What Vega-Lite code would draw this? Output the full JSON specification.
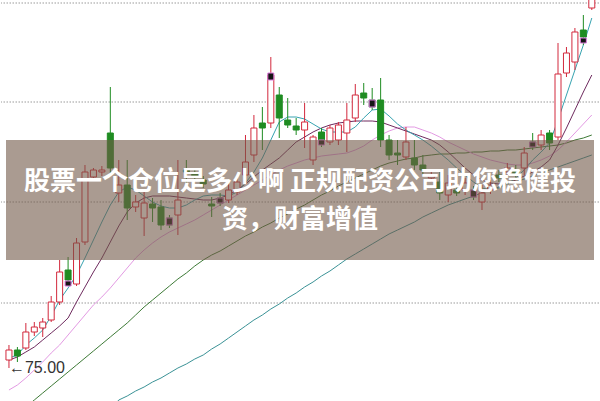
{
  "$schema": "https://vega.github.io/schema/vega-lite/v6.json",
  "width": 600,
  "height": 401,
  "autosize": {"type": "fit", "contains": "padding"},
  "padding": 0,
  "background": "white",
  "config": {"view": {"stroke": null}, "axis": {"disable": true}},
  "datasets": {
    "candles": [
      {"k":0,"o":75.8,"h":77.3,"l":75.0,"c":76.8},
      {"k":1,"o":76.8,"h":77.1,"l":75.6,"c":76.2},
      {"k":2,"o":77.0,"h":79.5,"l":76.8,"c":78.6},
      {"k":3,"o":78.6,"h":79.6,"l":78.2,"c":79.1},
      {"k":4,"o":79.0,"h":80.0,"l":78.1,"c":79.6},
      {"k":5,"o":79.8,"h":82.2,"l":79.6,"c":81.6},
      {"k":6,"o":81.6,"h":85.8,"l":81.3,"c":84.6},
      {"k":7,"o":84.8,"h":86.1,"l":83.3,"c":83.8},
      {"k":8,"o":83.4,"h":88.0,"l":83.2,"c":87.5},
      {"k":9,"o":87.6,"h":95.3,"l":87.3,"c":94.6},
      {"k":10,"o":94.1,"h":95.0,"l":93.8,"c":94.8},
      {"k":11,"o":94.6,"h":95.2,"l":94.2,"c":94.8},
      {"k":12,"o":98.5,"h":103.1,"l":94.3,"c":95.0},
      {"k":13,"o":92.5,"h":95.8,"l":91.6,"c":93.3},
      {"k":14,"o":93.3,"h":95.8,"l":89.8,"c":91.0},
      {"k":15,"o":91.1,"h":92.3,"l":90.6,"c":91.6},
      {"k":16,"o":90.0,"h":92.8,"l":88.2,"c":91.5},
      {"k":17,"o":91.4,"h":92.0,"l":89.6,"c":91.0},
      {"k":18,"o":91.1,"h":91.8,"l":88.8,"c":89.3},
      {"k":19,"o":90.0,"h":90.3,"l":89.0,"c":89.3},
      {"k":20,"o":90.3,"h":95.8,"l":88.3,"c":91.8},
      {"k":21,"o":94.8,"h":95.8,"l":93.5,"c":94.6},
      {"k":22,"o":94.4,"h":95.0,"l":93.6,"c":94.2},
      {"k":23,"o":93.8,"h":94.2,"l":93.0,"c":93.4},
      {"k":24,"o":91.4,"h":92.1,"l":90.1,"c":91.2},
      {"k":25,"o":92.0,"h":92.5,"l":91.2,"c":91.5},
      {"k":26,"o":91.8,"h":93.5,"l":91.5,"c":92.8},
      {"k":27,"o":92.6,"h":94.2,"l":92.3,"c":93.6},
      {"k":28,"o":94.3,"h":98.3,"l":94.0,"c":95.6},
      {"k":29,"o":96.3,"h":100.3,"l":95.6,"c":99.0},
      {"k":30,"o":99.5,"h":101.1,"l":96.8,"c":99.0},
      {"k":31,"o":99.5,"h":106.1,"l":99.0,"c":104.3},
      {"k":32,"o":102.3,"h":103.1,"l":98.0,"c":100.0},
      {"k":33,"o":99.8,"h":102.0,"l":99.0,"c":99.3},
      {"k":34,"o":99.2,"h":100.0,"l":98.3,"c":98.8},
      {"k":35,"o":98.8,"h":101.5,"l":97.0,"c":99.6},
      {"k":36,"o":95.8,"h":98.3,"l":95.3,"c":98.1},
      {"k":37,"o":98.6,"h":99.0,"l":97.1,"c":97.6},
      {"k":38,"o":97.6,"h":99.3,"l":97.3,"c":99.0},
      {"k":39,"o":97.8,"h":99.6,"l":97.3,"c":99.3},
      {"k":40,"o":98.5,"h":101.5,"l":96.6,"c":99.8},
      {"k":41,"o":100.0,"h":103.4,"l":99.6,"c":102.3},
      {"k":42,"o":102.5,"h":103.5,"l":101.3,"c":102.0},
      {"k":43,"o":101.8,"h":103.0,"l":100.8,"c":101.1},
      {"k":44,"o":101.8,"h":104.0,"l":97.1,"c":97.8},
      {"k":45,"o":97.8,"h":98.3,"l":95.8,"c":96.3},
      {"k":46,"o":96.5,"h":97.8,"l":95.3,"c":96.3},
      {"k":47,"o":96.1,"h":99.1,"l":95.8,"c":97.6},
      {"k":48,"o":96.0,"h":97.8,"l":94.8,"c":95.3},
      {"k":49,"o":95.3,"h":96.3,"l":94.3,"c":94.8},
      {"k":50,"o":94.0,"h":94.8,"l":93.6,"c":94.3},
      {"k":51,"o":93.6,"h":94.8,"l":91.8,"c":92.5},
      {"k":52,"o":92.3,"h":94.3,"l":91.6,"c":93.5},
      {"k":53,"o":92.8,"h":93.3,"l":92.2,"c":92.5},
      {"k":54,"o":92.8,"h":94.0,"l":92.3,"c":93.5},
      {"k":55,"o":92.8,"h":93.2,"l":91.8,"c":92.1},
      {"k":56,"o":91.6,"h":93.3,"l":90.8,"c":92.5},
      {"k":57,"o":92.8,"h":93.8,"l":92.4,"c":93.3},
      {"k":58,"o":94.3,"h":94.8,"l":93.6,"c":94.0},
      {"k":59,"o":94.6,"h":95.5,"l":94.2,"c":95.0},
      {"k":60,"o":94.8,"h":95.3,"l":94.0,"c":94.4},
      {"k":61,"o":95.0,"h":97.1,"l":94.3,"c":96.5},
      {"k":62,"o":97.6,"h":98.5,"l":96.8,"c":97.1},
      {"k":63,"o":97.3,"h":98.8,"l":96.8,"c":98.3},
      {"k":64,"o":98.5,"h":98.8,"l":96.8,"c":97.5},
      {"k":65,"o":98.1,"h":107.5,"l":97.8,"c":104.4},
      {"k":66,"o":104.5,"h":107.1,"l":104.1,"c":106.5},
      {"k":67,"o":105.6,"h":109.0,"l":104.8,"c":108.6},
      {"k":68,"o":108.8,"h":110.3,"l":107.3,"c":108.1},
      {"k":69,"o":111.0,"h":113.5,"l":110.8,"c":112.8}
    ],
    "markers": [
      {"k":7,"t":83.7,"b":83.2},
      {"k":19,"t":90.0,"b":89.3},
      {"k":25,"t":92.0,"b":91.5},
      {"k":31,"t":104.5,"b":103.8},
      {"k":37,"t":97.8,"b":97.3},
      {"k":43,"t":101.8,"b":101.1},
      {"k":55,"t":92.8,"b":92.1},
      {"k":62,"t":97.6,"b":97.1},
      {"k":68,"t":108.0,"b":107.5}
    ],
    "ma": [
      {"k":0,"ma5":76.0,"ma10":75.8,"ma20":72.8,"ma30":69.8},
      {"k":1,"ma5":76.3,"ma10":76.1,"ma20":73.3,"ma30":70.4},
      {"k":2,"ma5":77.3,"ma10":76.6,"ma20":74.0,"ma30":71.1},
      {"k":3,"ma5":78.0,"ma10":77.1,"ma20":74.8,"ma30":71.8},
      {"k":4,"ma5":78.8,"ma10":77.8,"ma20":75.6,"ma30":72.5},
      {"k":5,"ma5":80.2,"ma10":78.5,"ma20":76.5,"ma30":73.2},
      {"k":6,"ma5":81.8,"ma10":79.2,"ma20":77.3,"ma30":73.9},
      {"k":7,"ma5":83.0,"ma10":80.0,"ma20":78.3,"ma30":74.6},
      {"k":8,"ma5":84.3,"ma10":81.6,"ma20":79.3,"ma30":75.3},
      {"k":9,"ma5":86.0,"ma10":83.1,"ma20":80.3,"ma30":76.0},
      {"k":10,"ma5":87.8,"ma10":84.6,"ma20":81.3,"ma30":76.7},
      {"k":11,"ma5":89.6,"ma10":86.0,"ma20":82.1,"ma30":77.4,"ma60":69.8},
      {"k":12,"ma5":91.3,"ma10":87.6,"ma20":83.0,"ma30":78.1,"ma60":70.8},
      {"k":13,"ma5":92.6,"ma10":89.2,"ma20":84.0,"ma30":78.8,"ma60":71.8},
      {"k":14,"ma5":93.1,"ma10":90.6,"ma20":85.0,"ma30":79.5,"ma60":72.2},
      {"k":15,"ma5":92.8,"ma10":91.5,"ma20":86.0,"ma30":80.3,"ma60":72.7},
      {"k":16,"ma5":92.2,"ma10":92.0,"ma20":86.8,"ma30":81.1,"ma60":73.1},
      {"k":17,"ma5":91.6,"ma10":92.2,"ma20":87.5,"ma30":81.8,"ma60":73.6},
      {"k":18,"ma5":91.2,"ma10":92.2,"ma20":88.1,"ma30":82.5,"ma60":74.0},
      {"k":19,"ma5":91.0,"ma10":92.2,"ma20":88.6,"ma30":83.2,"ma60":74.5},
      {"k":20,"ma5":91.0,"ma10":92.1,"ma20":89.0,"ma30":83.9,"ma60":75.0},
      {"k":21,"ma5":91.3,"ma10":92.0,"ma20":89.4,"ma30":84.5,"ma60":75.4},
      {"k":22,"ma5":91.8,"ma10":91.9,"ma20":89.8,"ma30":85.2,"ma60":75.9},
      {"k":23,"ma5":92.2,"ma10":91.8,"ma20":90.3,"ma30":85.8,"ma60":76.3},
      {"k":24,"ma5":92.3,"ma10":91.8,"ma20":90.8,"ma30":86.3,"ma60":76.9},
      {"k":25,"ma5":92.3,"ma10":92.0,"ma20":91.3,"ma30":86.7,"ma60":77.4},
      {"k":26,"ma5":92.2,"ma10":92.3,"ma20":91.8,"ma30":87.2,"ma60":78.0},
      {"k":27,"ma5":92.6,"ma10":92.8,"ma20":92.3,"ma30":87.7,"ma60":78.6},
      {"k":28,"ma5":93.5,"ma10":93.4,"ma20":92.8,"ma30":88.2,"ma60":79.2},
      {"k":29,"ma5":94.6,"ma10":94.1,"ma20":93.3,"ma30":88.6,"ma60":79.8},
      {"k":30,"ma5":96.0,"ma10":94.8,"ma20":93.8,"ma30":89.1,"ma60":80.3},
      {"k":31,"ma5":97.8,"ma10":95.4,"ma20":94.3,"ma30":89.5,"ma60":80.9},
      {"k":32,"ma5":99.6,"ma10":96.0,"ma20":94.8,"ma30":90.0,"ma60":81.4},
      {"k":33,"ma5":100.1,"ma10":96.8,"ma20":95.2,"ma30":90.4,"ma60":82.0},
      {"k":34,"ma5":100.1,"ma10":97.6,"ma20":95.5,"ma30":90.9,"ma60":82.5},
      {"k":35,"ma5":99.9,"ma10":98.1,"ma20":95.8,"ma30":91.3,"ma60":83.1},
      {"k":36,"ma5":99.4,"ma10":98.6,"ma20":96.0,"ma30":91.8,"ma60":83.6},
      {"k":37,"ma5":98.9,"ma10":99.0,"ma20":96.2,"ma30":92.3,"ma60":84.2},
      {"k":38,"ma5":98.6,"ma10":99.3,"ma20":96.3,"ma30":92.7,"ma60":84.7},
      {"k":39,"ma5":98.6,"ma10":99.5,"ma20":96.4,"ma30":93.2,"ma60":85.3},
      {"k":40,"ma5":98.6,"ma10":99.6,"ma20":96.5,"ma30":93.6,"ma60":85.9},
      {"k":41,"ma5":99.1,"ma10":99.7,"ma20":96.8,"ma30":94.0,"ma60":86.4},
      {"k":42,"ma5":100.0,"ma10":99.7,"ma20":97.2,"ma30":94.4,"ma60":86.9},
      {"k":43,"ma5":100.8,"ma10":99.7,"ma20":97.8,"ma30":94.8,"ma60":87.4},
      {"k":44,"ma5":100.9,"ma10":99.6,"ma20":98.3,"ma30":95.2,"ma60":87.9},
      {"k":45,"ma5":100.2,"ma10":99.3,"ma20":98.7,"ma30":95.5,"ma60":88.4},
      {"k":46,"ma5":99.4,"ma10":99.0,"ma20":99.0,"ma30":95.7,"ma60":88.8},
      {"k":47,"ma5":98.8,"ma10":98.7,"ma20":99.1,"ma30":95.9,"ma60":89.2},
      {"k":48,"ma5":98.3,"ma10":98.4,"ma20":99.1,"ma30":96.0,"ma60":89.6},
      {"k":49,"ma5":97.8,"ma10":98.1,"ma20":98.8,"ma30":96.2,"ma60":90.1},
      {"k":50,"ma5":97.2,"ma10":97.8,"ma20":98.5,"ma30":96.3,"ma60":90.5},
      {"k":51,"ma5":96.5,"ma10":97.3,"ma20":98.1,"ma30":96.4,"ma60":90.9},
      {"k":52,"ma5":95.8,"ma10":96.6,"ma20":97.6,"ma30":96.4,"ma60":91.3},
      {"k":53,"ma5":95.0,"ma10":95.8,"ma20":97.2,"ma30":96.5,"ma60":91.6},
      {"k":54,"ma5":94.3,"ma10":95.0,"ma20":96.8,"ma30":96.5,"ma60":91.9},
      {"k":55,"ma5":93.6,"ma10":94.3,"ma20":96.4,"ma30":96.6,"ma60":92.2},
      {"k":56,"ma5":93.0,"ma10":93.8,"ma20":96.1,"ma30":96.6,"ma60":92.5},
      {"k":57,"ma5":92.8,"ma10":93.5,"ma20":95.8,"ma30":96.7,"ma60":92.8},
      {"k":58,"ma5":93.0,"ma10":93.4,"ma20":95.6,"ma30":96.7,"ma60":93.1},
      {"k":59,"ma5":93.4,"ma10":93.5,"ma20":95.4,"ma30":96.8,"ma60":93.4},
      {"k":60,"ma5":94.0,"ma10":93.8,"ma20":95.3,"ma30":96.8,"ma60":93.6},
      {"k":61,"ma5":94.8,"ma10":94.2,"ma20":95.3,"ma30":96.9,"ma60":93.9},
      {"k":62,"ma5":95.8,"ma10":94.6,"ma20":95.5,"ma30":97.0,"ma60":94.2},
      {"k":63,"ma5":96.6,"ma10":95.1,"ma20":95.8,"ma30":97.1,"ma60":94.5},
      {"k":64,"ma5":97.5,"ma10":95.8,"ma20":96.2,"ma30":97.2,"ma60":94.8},
      {"k":65,"ma5":99.8,"ma10":97.3,"ma20":96.8,"ma30":97.3,"ma60":95.1},
      {"k":66,"ma5":102.3,"ma10":99.0,"ma20":97.6,"ma30":97.5,"ma60":95.4},
      {"k":67,"ma5":104.8,"ma10":100.8,"ma20":98.5,"ma30":97.8,"ma60":95.7},
      {"k":68,"ma5":107.3,"ma10":102.6,"ma20":99.4,"ma30":98.0,"ma60":96.0},
      {"k":69,"ma5":110.0,"ma10":104.3,"ma20":100.3,"ma30":98.3,"ma60":96.3}
    ],
    "grid": [{"p":81.5},{"p":91.6},{"p":101.6},{"p":111.5}],
    "band": [{"x1":-0.35,"x2":69.26,"top":97.8,"bottom":85.8}],
    "titles": [
      {"line":1,"text":"股票一个仓位是多少啊 正规配资公司助您稳健投","kx":34.45,"ky":93.65},
      {"line":2,"text":"资，财富增值","kx":34.45,"ky":89.8}
    ],
    "lowlabel": [{"k":0,"p":75.0,"label":"←75.00"}]
  },
  "layer": [
    {
      "data": {"name": "grid"},
      "mark": {"type": "rule", "color": "#9a9a9a", "strokeWidth": 1, "strokeDash": [1.5, 1.5]},
      "encoding": {
        "y": {"field": "p", "type": "quantitative", "scale": {"domain": [71.7, 111.8], "nice": false, "zero": false}}
      }
    },
    {
      "data": {"name": "ma"},
      "mark": {"type": "line", "color": "#3d7a36", "strokeWidth": 1, "clip": true},
      "encoding": {
        "x": {"field": "k", "type": "quantitative", "scale": {"domain": [-0.35, 69.26], "nice": false, "zero": false}},
        "y": {"field": "ma30", "type": "quantitative", "scale": {"domain": [71.7, 111.8], "nice": false, "zero": false}}
      }
    },
    {
      "data": {"name": "ma"},
      "mark": {"type": "line", "color": "#3a9296", "strokeWidth": 1, "clip": true},
      "encoding": {
        "x": {"field": "k", "type": "quantitative", "scale": {"domain": [-0.35, 69.26], "nice": false, "zero": false}},
        "y": {"field": "ma60", "type": "quantitative", "scale": {"domain": [71.7, 111.8], "nice": false, "zero": false}}
      }
    },
    {
      "data": {"name": "ma"},
      "mark": {"type": "line", "color": "#e39ae3", "strokeWidth": 1, "clip": true},
      "encoding": {
        "x": {"field": "k", "type": "quantitative", "scale": {"domain": [-0.35, 69.26], "nice": false, "zero": false}},
        "y": {"field": "ma20", "type": "quantitative", "scale": {"domain": [71.7, 111.8], "nice": false, "zero": false}}
      }
    },
    {
      "data": {"name": "ma"},
      "mark": {"type": "line", "color": "#6e2a5e", "strokeWidth": 1, "clip": true},
      "encoding": {
        "x": {"field": "k", "type": "quantitative", "scale": {"domain": [-0.35, 69.26], "nice": false, "zero": false}},
        "y": {"field": "ma10", "type": "quantitative", "scale": {"domain": [71.7, 111.8], "nice": false, "zero": false}}
      }
    },
    {
      "data": {"name": "ma"},
      "mark": {"type": "line", "color": "#36a3b0", "strokeWidth": 1, "clip": true},
      "encoding": {
        "x": {"field": "k", "type": "quantitative", "scale": {"domain": [-0.35, 69.26], "nice": false, "zero": false}},
        "y": {"field": "ma5", "type": "quantitative", "scale": {"domain": [71.7, 111.8], "nice": false, "zero": false}}
      }
    },
    {
      "data": {"name": "candles"},
      "mark": {"type": "rule", "strokeWidth": 1, "clip": true},
      "encoding": {
        "x": {"field": "k", "type": "quantitative", "scale": {"domain": [-0.35, 69.26], "nice": false, "zero": false}},
        "y": {"field": "l", "type": "quantitative", "scale": {"domain": [71.7, 111.8], "nice": false, "zero": false}},
        "y2": {"field": "h"},
        "color": {"condition": {"test": "datum.c > datum.o", "value": "#d2283c"}, "value": "#1f8c22"}
      }
    },
    {
      "data": {"name": "candles"},
      "transform": [{"filter": "datum.c > datum.o"}],
      "mark": {"type": "bar", "size": 6, "fill": "white", "stroke": "#d2283c", "strokeWidth": 1, "clip": true},
      "encoding": {
        "x": {"field": "k", "type": "quantitative", "scale": {"domain": [-0.35, 69.26], "nice": false, "zero": false}},
        "y": {"field": "o", "type": "quantitative", "scale": {"domain": [71.7, 111.8], "nice": false, "zero": false}},
        "y2": {"field": "c"}
      }
    },
    {
      "data": {"name": "candles"},
      "transform": [{"filter": "datum.c <= datum.o"}],
      "mark": {"type": "bar", "size": 6, "fill": "#1f8c22", "stroke": "#1f8c22", "strokeWidth": 1, "clip": true},
      "encoding": {
        "x": {"field": "k", "type": "quantitative", "scale": {"domain": [-0.35, 69.26], "nice": false, "zero": false}},
        "y": {"field": "o", "type": "quantitative", "scale": {"domain": [71.7, 111.8], "nice": false, "zero": false}},
        "y2": {"field": "c"}
      }
    },
    {
      "data": {"name": "markers"},
      "mark": {"type": "bar", "size": 6, "fill": "#151515", "stroke": "#e07ce0", "strokeWidth": 1},
      "encoding": {
        "x": {"field": "k", "type": "quantitative", "scale": {"domain": [-0.35, 69.26], "nice": false, "zero": false}},
        "y": {"field": "t", "type": "quantitative", "scale": {"domain": [71.7, 111.8], "nice": false, "zero": false}},
        "y2": {"field": "b"}
      }
    },
    {
      "data": {"name": "band"},
      "mark": {"type": "rect", "fill": "#715848", "opacity": 0.6},
      "encoding": {
        "x": {"field": "x1", "type": "quantitative", "scale": {"domain": [-0.35, 69.26], "nice": false, "zero": false}},
        "x2": {"field": "x2"},
        "y": {"field": "top", "type": "quantitative", "scale": {"domain": [71.7, 111.8], "nice": false, "zero": false}},
        "y2": {"field": "bottom"}
      }
    },
    {
      "data": {"name": "titles"},
      "mark": {"type": "text", "font": "Noto Sans CJK SC", "fontSize": 26, "fontWeight": "bold", "color": "white", "align": "center", "baseline": "middle"},
      "encoding": {
        "x": {"field": "kx", "type": "quantitative", "scale": {"domain": [-0.35, 69.26], "nice": false, "zero": false}},
        "y": {"field": "ky", "type": "quantitative", "scale": {"domain": [71.7, 111.8], "nice": false, "zero": false}},
        "text": {"field": "text"}
      }
    },
    {
      "data": {"name": "lowlabel"},
      "mark": {"type": "text", "font": "Liberation Sans", "fontSize": 16, "color": "#333333", "align": "left", "baseline": "middle"},
      "encoding": {
        "x": {"field": "k", "type": "quantitative", "scale": {"domain": [-0.35, 69.26], "nice": false, "zero": false}},
        "y": {"field": "p", "type": "quantitative", "scale": {"domain": [71.7, 111.8], "nice": false, "zero": false}},
        "text": {"field": "label"}
      }
    }
  ]
}
